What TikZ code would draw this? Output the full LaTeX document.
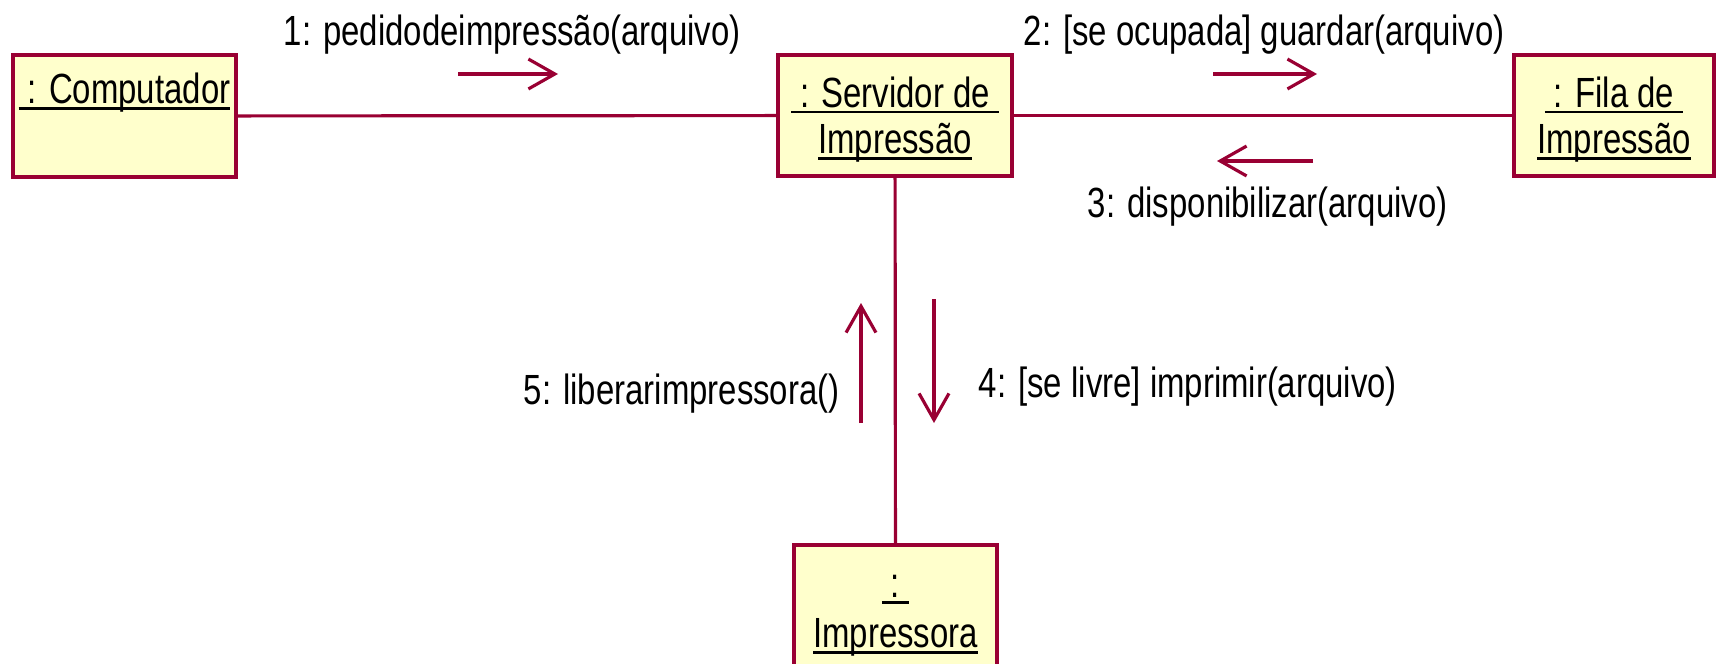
\documentclass[tikz,border=0pt]{standalone}
\usepackage{fontspec}
\setmainfont{Liberation Sans}[FakeStretch=0.78]
\usetikzlibrary{arrows.meta}

\definecolor{umlline}{RGB}{153,0,51}
\definecolor{umlfill}{RGB}{255,255,204}
\newcommand{\objul}[1]{\setbox0=\hbox{#1}\rlap{\rule[-1.8pt]{\wd0}{0.8pt}}\box0}

\begin{document}
\begin{tikzpicture}[x=0.01cm, y=-0.01cm, font=\fontsize{12}{13.3}\selectfont,
    objbox/.style={draw=umlline, fill=umlfill, line width=1pt, inner sep=0pt},
    link/.style={draw=umlline, line width=0.9pt},
    msg/.style={draw=umlline, line width=0.9pt, -{Straight Barb[length=7.5pt, width=8.5pt]}},
    msglabel/.style={anchor=base west, inner sep=0pt}]
  \clip (0,0) rectangle (1716,664);

  % objects
  \node[objbox, minimum width=2.23cm, minimum height=1.22cm, text height=8.7pt, text depth=15.6pt] (comp) at (124.5,116) {\objul{\ : Computador}};
  \node[objbox, align=center, minimum width=2.34cm, minimum height=1.21cm] (serv) at (895,115.5) {\objul{\rule{0pt}{11pt}\ : Servidor de\ }\\\objul{Impressão}};
  \node[objbox, align=center, minimum width=2.0cm, minimum height=1.21cm] (fila) at (1614,115.5) {\objul{\rule{0pt}{11pt}\ : Fila de\ }\\\objul{Impressão}};
  \node[objbox, align=center, minimum width=2.03cm, minimum height=1.25cm, font=\fontsize{12}{14.2}\selectfont] (impr) at (895.5,607.5) {\objul{\rule{0pt}{11pt}\ :\ }\\\objul{Impressora}};

  % links
  \draw[link] (comp) -- (serv);
  \draw[link] (serv) -- (fila);
  \draw[link] (serv) -- (impr);

  % messages
  \coordinate (m1s) at (458,74);
  \coordinate (m1e) at (558,74);
  \draw[msg] (m1s) -- (m1e);
  \node[msglabel] (m1) at (283,46) {1: pedidodeimpressão(arquivo)};

  \coordinate (m2s) at (1213,74);
  \coordinate (m2e) at (1317,74);
  \draw[msg] (m2s) -- (m2e);
  \node[msglabel] (m2) at (1023,46) {2: [se ocupada] guardar(arquivo)};

  \coordinate (m3s) at (1313,161);
  \coordinate (m3e) at (1217,161);
  \draw[msg] (m3s) -- (m3e);
  \node[msglabel] (m3) at (1087,217) {3: disponibilizar(arquivo)};

  \coordinate (m4s) at (934,299);
  \coordinate (m4e) at (934,423);
  \draw[msg] (m4s) -- (m4e);
  \node[msglabel] (m4) at (978,397) {4: [se livre] imprimir(arquivo)};

  \coordinate (m5s) at (861,423);
  \coordinate (m5e) at (861,303);
  \draw[msg] (m5s) -- (m5e);
  \node[msglabel] (m5) at (523,404) {5: liberarimpressora()};
\end{tikzpicture}
\end{document}
